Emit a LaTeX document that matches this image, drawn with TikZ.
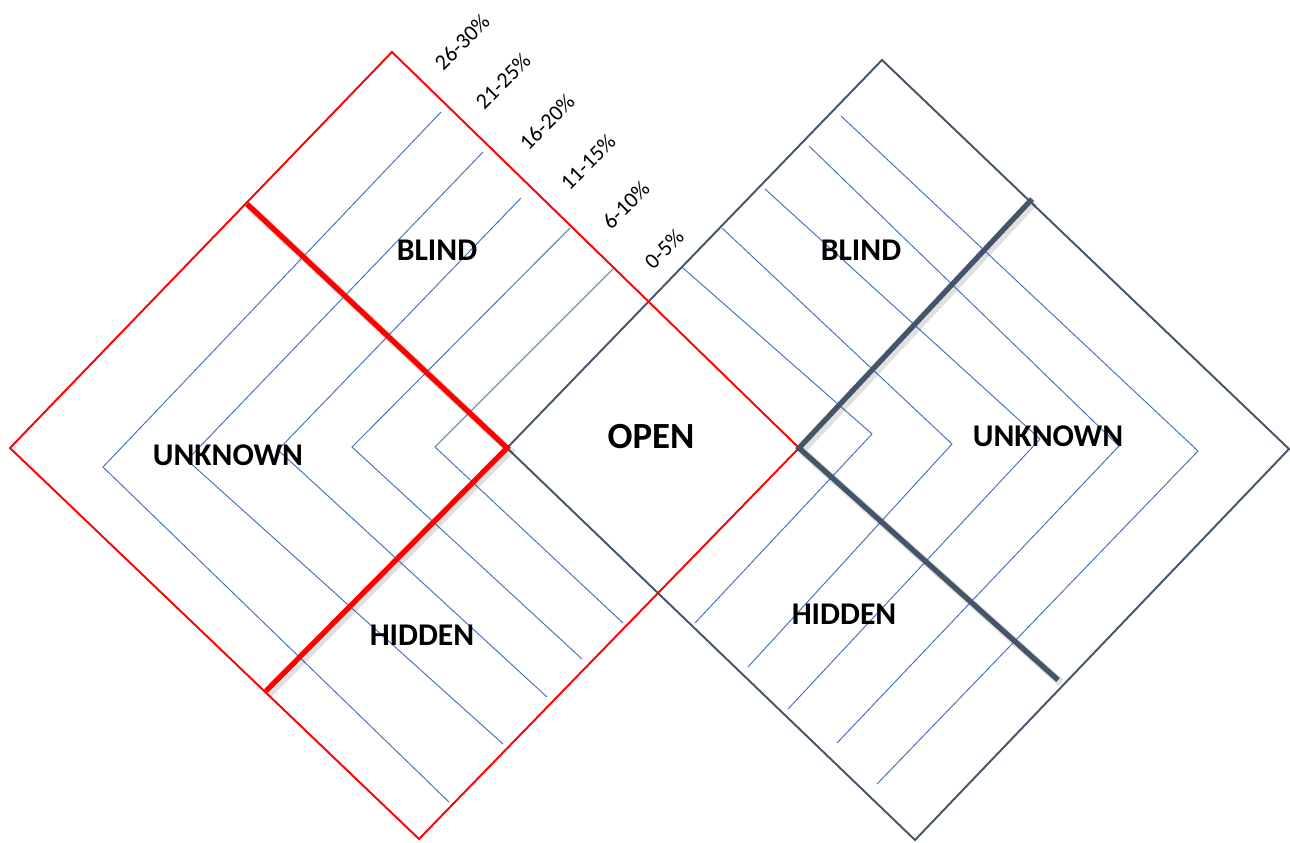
\documentclass[tikz,border=0pt]{standalone}
\usepackage{fontspec}
\setmainfont{Carlito}
\usepackage{tikz}
\definecolor{framered}{HTML}{FF0000}
\definecolor{slategray}{HTML}{44546A}
\definecolor{paneblue}{HTML}{4472C4}

\begin{document}
\begin{tikzpicture}[
    x=0.02cm, y=-0.02cm,
    redframe/.style={draw=framered, line width=1.1pt, line join=miter},
    grayframe/.style={draw=slategray, line width=1.1pt, line join=miter},
    ring/.style={draw=paneblue, line width=0.55pt},
    redsplit/.style={draw=framered, line width=3pt},
    graysplit/.style={draw=slategray, line width=3pt},
    splitshadow/.style={draw=black, opacity=0.12, line width=4.5pt,
                        xshift=1.6pt, yshift=-1.6pt},
    quadrant/.style={font=\fontsize{18}{20}\selectfont\bfseries},
    band/.style={font=\fontsize{12.6}{14}\selectfont, rotate=45, inner sep=0pt},
  ]
  \useasboundingbox (0,0) rectangle (1290,842);

  % corners of the two windows
  \coordinate (rtop) at (392,52);
  \coordinate (rright) at (799,448);
  \coordinate (rbottom) at (419,839);
  \coordinate (rleft) at (10,448);
  \coordinate (gtop) at (882,60);
  \coordinate (gright) at (1289,449);
  \coordinate (gbottom) at (915,840);
  \coordinate (gleft) at (507,448);

  % rings, left window
  \draw[ring] (441,112) -- (103,467) -- (449,802);
  \draw[ring] (483,152) -- (187,460) -- (503,744);
  \draw[ring] (521,198) -- (278,450) -- (547,697);
  \draw[ring] (570,228) -- (352,447) -- (582,659);
  \draw[ring] (615,267) -- (435,447) -- (623,623);

  % rings, right window
  \draw[ring] (683,268) -- (872,434) -- (695,623);
  \draw[ring] (722,228) -- (952,444) -- (748,667);
  \draw[ring] (765,189) -- (1040,439) -- (788,709);
  \draw[ring] (809,146) -- (1119,446) -- (837,743);
  \draw[ring] (841,116) -- (1198,451) -- (877,784);

  \draw[grayframe] (gleft) -- (gtop) -- (gright) -- (gbottom) -- cycle;
  \draw[redframe] (rleft) -- (rtop) -- (rright) -- (rbottom) -- cycle;

  % split lines
  \coordinate (rsplitA) at (247,204);
  \coordinate (rsplitB) at (266,691);
  \coordinate (gsplitA) at (1032,199);
  \coordinate (gsplitB) at (1058,680);
  \draw[splitshadow] (247,204) -- (507,448) -- (266,691);
  \draw[splitshadow] (1032,199) -- (799,448) -- (1058,680);
  \draw[redsplit] (rsplitA) -- (gleft) -- (rsplitB);
  \draw[graysplit] (gsplitA) -- (rright) -- (gsplitB);

  % quadrant names
  \node[quadrant] (blindL) at (437,250) {BLIND};
  \node[quadrant] (unknownL) at (228,455) {UNKNOWN};
  \node[quadrant] (hiddenL) at (422,635) {HIDDEN};
  \node[quadrant, font=\fontsize{21}{24}\selectfont\bfseries] (open) at (651,437) {OPEN};
  \node[quadrant] (blindR) at (861,250) {BLIND};
  \node[quadrant] (unknownR) at (1048,436) {UNKNOWN};
  \node[quadrant] (hiddenR) at (844,614) {HIDDEN};

  % percentage bands
  \node[band] (b26) at (462,42) {26-30\%};
  \node[band] (b21) at (503,81) {21-25\%};
  \node[band] (b16) at (547,122) {16-20\%};
  \node[band] (b11) at (588,162) {11-15\%};
  \node[band] (b6) at (626,205) {6-10\%};
  \node[band] (b0) at (664,249) {0-5\%};
\end{tikzpicture}
\end{document}
